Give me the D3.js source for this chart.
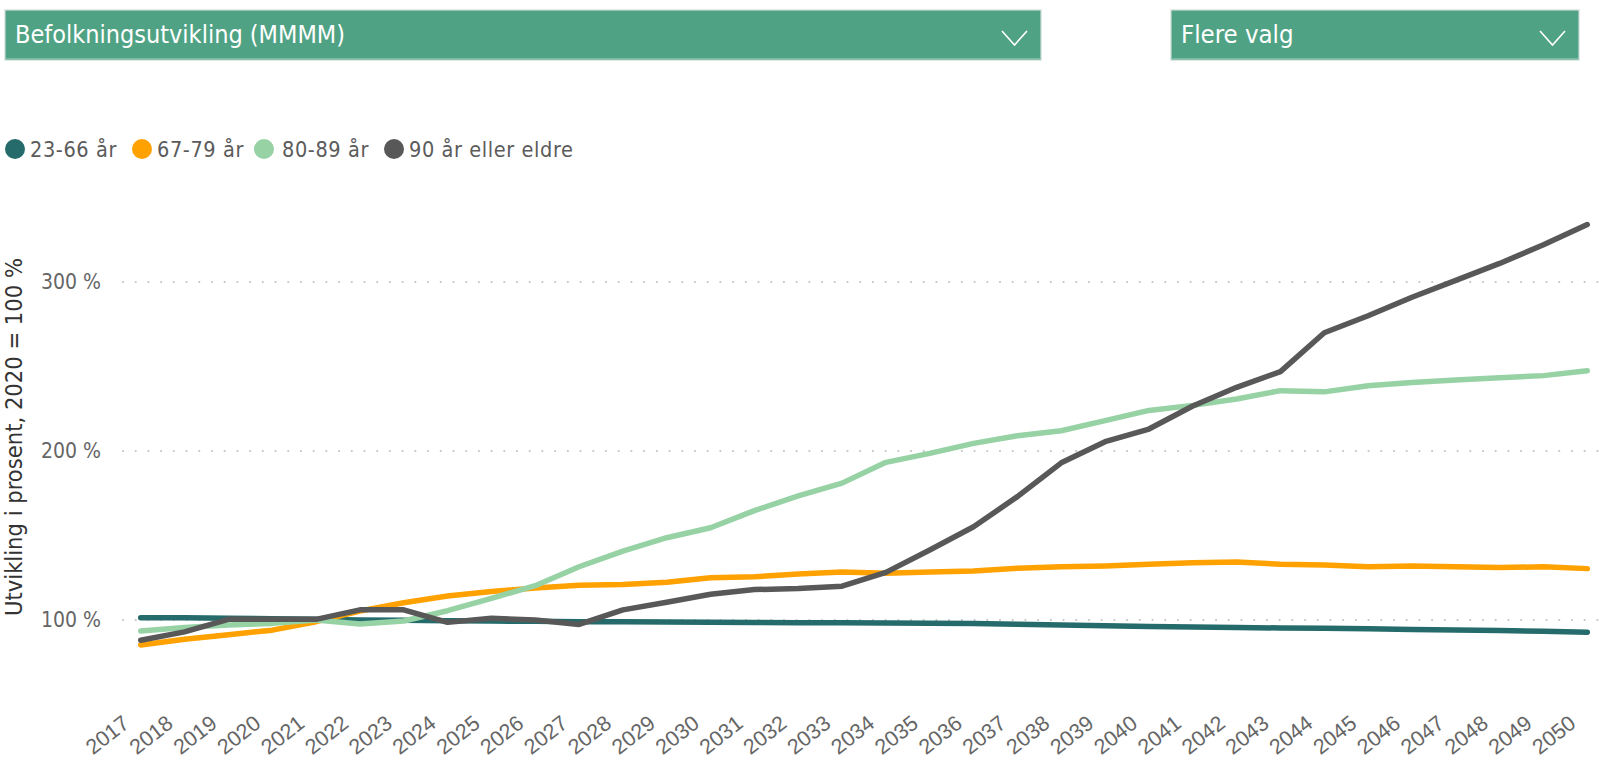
<!DOCTYPE html>
<html>
<head>
<meta charset="utf-8">
<script src="https://cdn.jsdelivr.net/npm/d3@7/dist/d3.min.js"></script>
<style>
  html, body { margin: 0; padding: 0; background: #fff; }
  svg { display: block; font-family: "DejaVu Sans Condensed", Roboto, "Noto Sans", sans-serif; }
</style>
</head>
<body>
<svg id="chart" width="1611" height="759"></svg>
<script>
const years = d3.range(2017, 2051).map(String);
const seriesNames = ["23-66 år", "67-79 år", "80-89 år", "90 år eller eldre"];
const seriesColors = ["#256b6c", "#ffa100", "#97d2a5", "#585858"];

const age23_66 = [101.4, 101.3, 101.0, 100.8, 100.5, 100.0, 99.8, 99.6, 99.4, 99.2, 99.0, 98.9, 98.8, 98.6, 98.5, 98.4, 98.3, 98.2, 98.1, 97.9, 97.5, 97.0, 96.6, 96.1, 95.8, 95.5, 95.3, 95.1, 94.8, 94.4, 94.1, 93.8, 93.3, 92.8];
const age67_79 = [85.2, 88.6, 91.3, 94.0, 99.0, 105.3, 110.2, 114.2, 116.8, 119.0, 120.6, 121.0, 122.3, 125.0, 125.6, 127.2, 128.4, 127.6, 128.4, 129.0, 130.6, 131.5, 132.0, 133.0, 133.9, 134.3, 133.0, 132.5, 131.5, 132.0, 131.5, 131.0, 131.5, 130.4];
const age80_89 = [93.5, 95.5, 97.0, 98.0, 100.0, 97.6, 99.4, 105.5, 112.8, 120.3, 131.5, 140.8, 148.7, 154.6, 164.7, 173.4, 181.0, 193.3, 198.6, 204.5, 209.0, 212.0, 218.0, 224.0, 227.0, 230.8, 235.7, 235.0, 238.6, 240.5, 242.0, 243.4, 244.6, 247.5];
const age90plus = [88.0, 93.0, 100.4, 100.4, 100.4, 106.0, 106.0, 98.6, 101.0, 100.0, 97.4, 106.0, 110.5, 115.2, 118.0, 118.6, 120.0, 128.2, 141.4, 155.2, 173.0, 193.0, 205.5, 213.0, 226.6, 237.7, 247.0, 270.0, 280.0, 291.0, 301.0, 311.0, 322.0, 334.0];
const yTicks = [100, 200, 300];
const dropdownLabels = ["Befolkningsutvikling (MMMM)", "Flere valg"];
const yTitle = "Utvikling i prosent, 2020 = 100 %";

const allSeries = [age23_66, age67_79, age80_89, age90plus];

const svg = d3.select("#chart");

// Dropdown slicers
const boxes = [{x: 4, w: 1038, label: dropdownLabels[0], fs: 25}, {x: 1170, w: 410, label: dropdownLabels[1], fs: 25.5}];
boxes.forEach(b => {
  const g = svg.append("g").attr("transform", `translate(${b.x},9)`);
  g.append("rect").attr("x", 0).attr("y", 0).attr("width", b.w).attr("height", 52)
    .attr("fill", "#e3e9e6");
  g.append("rect").attr("x", 1.5).attr("y", 1.5).attr("width", b.w - 3).attr("height", 49)
    .attr("fill", "#4fa384");
  g.append("rect").attr("x", 1.5).attr("y", 49).attr("width", b.w - 3).attr("height", 1.5)
    .attr("fill", "#7cbca4");
  g.append("text").attr("x", 11).attr("y", 34).attr("fill", "#ffffff")
    .style("font-size", b.fs + "px").text(b.label);
  g.append("path")
    .attr("d", `M${b.w - 40},${22} L${b.w - 27.5},${36} L${b.w - 15},${22}`)
    .attr("fill", "none").attr("stroke", "#ffffff").attr("stroke-width", 1.6);
});

// Legend
const legendPos = [{cx: 15, tx: 30}, {cx: 142, tx: 157}, {cx: 264, tx: 282}, {cx: 394, tx: 409}];
seriesNames.forEach((name, i) => {
  svg.append("circle").attr("cx", legendPos[i].cx).attr("cy", 149).attr("r", 10)
    .attr("fill", seriesColors[i]);
  svg.append("text").attr("x", legendPos[i].tx).attr("y", 149).attr("dy", "0.36em")
    .attr("fill", "#5b5b5b").style("font-size", "21.5px").style("letter-spacing", "0.6px").text(name);
});

// Scales
const x = d3.scalePoint().domain(years).range([140.7, 1587.3]);
const y = d3.scaleLinear().domain([100, 300]).range([620, 282]);

// Gridlines
svg.append("g").selectAll("line").data(yTicks).join("line")
  .attr("x1", 123).attr("x2", 1605)
  .attr("y1", d => y(d)).attr("y2", d => y(d))
  .attr("stroke", "#c4c4c4").attr("stroke-width", 2.2)
  .attr("stroke-linecap", "round").attr("stroke-dasharray", "0.01 12.7");

// Y axis labels
const yAxis = d3.axisLeft(y).tickValues(yTicks).tickSize(0).tickFormat(d => d + " %");
const yg = svg.append("g").attr("transform", "translate(101,0)").call(yAxis);
yg.select(".domain").remove();
yg.selectAll("text").attr("x", 0).attr("fill", "#666666")
  .style("font-size", "21px").style("font-family", "DejaVu Sans Condensed, Roboto, sans-serif");

// Y title
svg.append("text")
  .attr("transform", `translate(22,437) rotate(-90)`)
  .attr("text-anchor", "middle").attr("fill", "#333333")
  .style("font-size", "23.5px").text(yTitle);

// X axis
const xAxis = d3.axisBottom(x).tickSize(0);
const xg = svg.append("g").attr("transform", "translate(0,0)").call(xAxis);
xg.select(".domain").remove();
xg.selectAll(".tick").attr("transform", null);
xg.selectAll(".tick text")
  .attr("y", null).attr("dy", null)
  .attr("text-anchor", "end")
  .attr("transform", d => `translate(${x(d) - 10},726) rotate(-38)`)
  .attr("fill", "#666666")
  .style("font-size", "21.5px");

// Lines
const line = d3.line().x((d, i) => x(years[i])).y(d => y(d));
svg.append("g").selectAll("path").data(allSeries).join("path")
  .attr("d", d => line(d))
  .attr("fill", "none")
  .attr("stroke", (d, i) => seriesColors[i])
  .attr("stroke-width", 5.5)
  .attr("stroke-linejoin", "round")
  .attr("stroke-linecap", "round");
</script>
</body>
</html>
